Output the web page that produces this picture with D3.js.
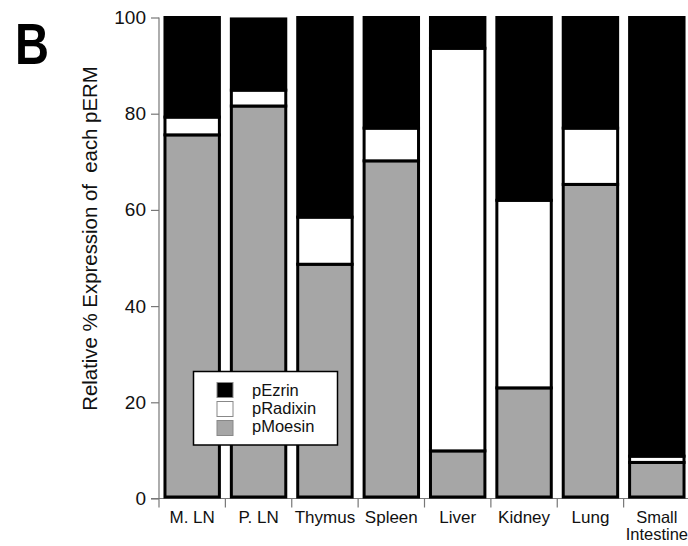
<!DOCTYPE html>
<html>
<head>
<meta charset="utf-8">
<script src="https://cdn.jsdelivr.net/npm/d3@7"></script>
<style>
  html, body { margin: 0; padding: 0; background: #fff; }
  svg { display: block; font-family: "Liberation Sans", Arial, Helvetica, sans-serif; }
</style>
</head>
<body>
<svg id="chart" width="688" height="546"></svg>
<script>
const categories = ["M. LN", "P. LN", "Thymus", "Spleen", "Liver", "Kidney", "Lung", "Small Intestine"];
const pMoesin  = [75.6, 81.6, 48.7, 70.2, 9.9, 23.0, 65.3, 7.5];
const pRadixin = [3.7, 3.3, 9.8, 6.8, 83.7, 39.0, 11.7, 1.3];
const pEzrin   = [20.7, 14.8, 41.5, 23.0, 6.4, 38.0, 23.0, 91.2];
const yTicks = [0, 20, 40, 60, 80, 100];
const seriesNames = ["pEzrin", "pRadixin", "pMoesin"];
const seriesColors = { pEzrin: "#000000", pRadixin: "#ffffff", pMoesin: "#a6a6a6" };

const rows = categories.map((c, i) => ({ cat: c, pMoesin: pMoesin[i], pRadixin: pRadixin[i], pEzrin: pEzrin[i] }));
const stack = d3.stack().keys(["pMoesin", "pRadixin", "pEzrin"]);
const layers = stack(rows);

const svg = d3.select("#chart");
const x = d3.scaleBand().domain(categories).range([159, 690]).padding(0);
const y = d3.scaleLinear().domain([0, 100]).range([498.5, 17.5]);
const barW = x.bandwidth() * 0.82;

// Y axis
const yAxis = svg.append("g").attr("transform", "translate(159,0)")
  .call(d3.axisLeft(y).tickValues(yTicks).tickSize(8).tickPadding(5));
yAxis.select(".domain").attr("stroke", "#777").attr("stroke-width", 1.2).attr("d", `M0,${y(100)}V${y(0)}`);
yAxis.selectAll(".tick line").attr("stroke", "#777").attr("stroke-width", 1.2);
yAxis.selectAll(".tick text").attr("font-size", 19).attr("fill", "#111")
  .attr("font-family", "Liberation Sans, Arial, sans-serif");

// X axis line and ticks at band boundaries
svg.append("line").attr("x1", 151).attr("x2", 690).attr("y1", y(0)).attr("y2", y(0))
  .attr("stroke", "#777").attr("stroke-width", 1.2);
const bounds = categories.map(c => x(c));
svg.selectAll(".xtick").data(bounds).enter().append("line")
  .attr("x1", d => d).attr("x2", d => d).attr("y1", y(0)).attr("y2", y(0) + 9)
  .attr("stroke", "#777").attr("stroke-width", 1.2);

// Bars
layers.forEach(layer => {
  svg.append("g").selectAll("rect").data(layer).enter().append("rect")
    .attr("x", d => x(d.data.cat) + (x.bandwidth() - barW) / 2)
    .attr("width", barW)
    .attr("y", d => y(d[1]))
    .attr("height", d => y(d[0]) - y(d[1]) - (d[0] === 0 ? 1.5 : 0))
    .attr("fill", seriesColors[layer.key])
    .attr("stroke", "#000")
    .attr("stroke-width", 3);
});

// X labels
categories.forEach(c => {
  const cx = x(c) + x.bandwidth() / 2;
  const parts = c === "Small Intestine" ? ["Small", "Intestine"] : [c];
  const t = svg.append("text").attr("text-anchor", "middle").attr("font-size", 17).attr("fill", "#111");
  if (parts.length === 1) {
    t.attr("x", cx).attr("y", 523).text(c);
  } else {
    t.attr("font-size", 16.5);
    t.append("tspan").attr("x", cx).attr("y", 522.5).text(parts[0]);
    t.append("tspan").attr("x", cx).attr("y", 539.5).text(parts[1]);
  }
});

// Y title
svg.append("text")
  .attr("transform", "translate(97,238.5) rotate(-90)")
  .attr("text-anchor", "middle").attr("font-size", 20.4).attr("fill", "#111")
  .attr("xml:space", "preserve")
  .style("white-space", "pre")
  .text("Relative % Expression of  each pERM");

// Panel letter
svg.append("text").attr("x", 15).attr("y", 63.5)
  .attr("font-size", 58).attr("font-weight", "bold").attr("fill", "#000")
  .attr("textLength", 34).attr("lengthAdjust", "spacingAndGlyphs")
  .text("B");

// Legend
const lg = svg.append("g");
lg.append("rect").attr("x", 193.5).attr("y", 371.5).attr("width", 144).attr("height", 73.5)
  .attr("fill", "#fff").attr("stroke", "#000").attr("stroke-width", 1.5);
seriesNames.forEach((s, i) => {
  lg.append("rect").attr("x", 217).attr("y", 382.5 + i * 19).attr("width", 16).attr("height", 15)
    .attr("fill", seriesColors[s]).attr("stroke", "#888").attr("stroke-width", 1);
  lg.append("text").attr("x", 252).attr("y", 395.5 + i * 18).attr("font-size", 16.5).attr("fill", "#111").text(s);
});
</script>
</body>
</html>
